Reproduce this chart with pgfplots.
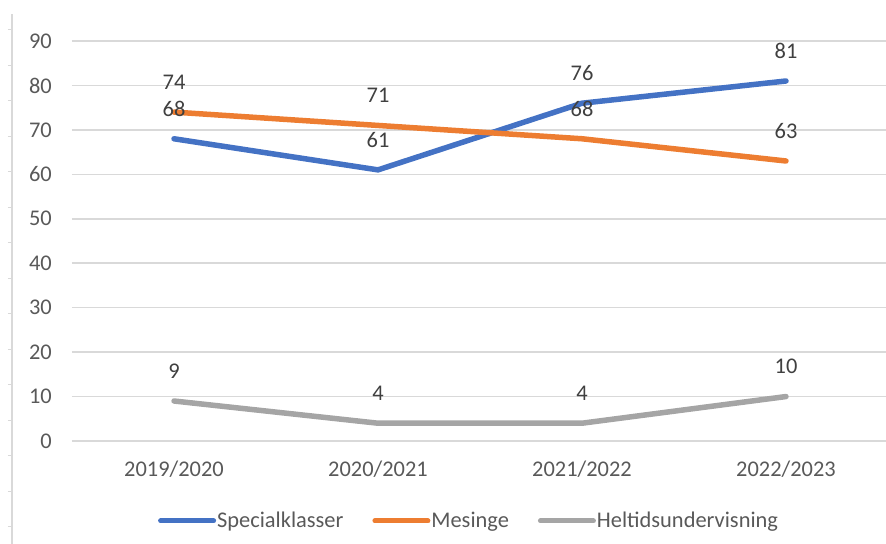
\documentclass[border=0pt]{standalone}
\usepackage{fontspec}
\setmainfont{Carlito}
\usepackage{pgfplots}
\pgfplotsset{compat=1.18}
\definecolor{sblue}{HTML}{4472C4}
\definecolor{sorange}{HTML}{ED7D31}
\definecolor{sgray}{HTML}{A5A5A5}
\definecolor{gridc}{HTML}{D9D9D9}
\definecolor{tickc}{HTML}{595959}
\definecolor{labc}{HTML}{404040}
\begin{document}
\fontsize{22.5}{27}\selectfont
\begin{tikzpicture}[x=1bp,y=1bp]
\useasboundingbox (-72,-103) rectangle (814,441);
\draw[color=gridc, line width=1.5bp] (-60,-103) -- (-60,427);
\foreach \k in {0,...,14} {
  \draw[color=gridc, line width=1bp] (-64,{411-35.5*\k}) -- (-60,{411-35.5*\k});
}
\begin{axis}[
  at={(0,0)}, anchor=south west,
  width=816bp, height=400bp, scale only axis,
  xmin=-0.5, xmax=3.5, ymin=0, ymax=90,
  ytick={0,10,...,90},
  xtick={0,1,2,3},
  xticklabels={2019/2020,2020/2021,2021/2022,2022/2023},
  axis line style={draw=none},
  major tick length=0pt,
  ymajorgrids,
  grid style={color=gridc, line width=1.5bp},
  /pgf/number format/assume math mode=true,
  tick label style={font=\fontsize{22.5}{27}\selectfont, text=tickc},
  yticklabel style={inner sep=0pt, anchor=east, xshift=-20bp},
  xticklabel style={inner sep=0pt, anchor=north, yshift=-20bp},
  clip=false,
  nodes near coords,
  every node near coord/.append style={anchor=center, yshift=30bp, inner sep=0pt, text=labc, font=\fontsize{22.5}{27}\selectfont},
  legend style={at={(0.486,-0.2)}, anchor=center, draw=none, fill=none,
    legend columns=3, /tikz/every even column/.append style={column sep=28bp},
    nodes={inner sep=1bp, text=tickc, font=\fontsize{22.5}{27}\selectfont}},
  legend image code/.code={\draw[#1, line width=5bp] (0bp,0bp) -- (53bp,0bp);},
]
\addplot[color=sblue, line width=5.5bp, line join=round, line cap=round] coordinates {(0,68) (1,61) (2,76) (3,81)};
\addlegendentry{Specialklasser}
\addplot[color=sorange, line width=5.5bp, line join=round, line cap=round] coordinates {(0,74) (1,71) (2,68) (3,63)};
\addlegendentry{Mesinge}
\addplot[color=sgray, line width=5.5bp, line join=round, line cap=round] coordinates {(0,9) (1,4) (2,4) (3,10)};
\addlegendentry{Heltidsundervisning}
\end{axis}
\end{tikzpicture}
\end{document}
